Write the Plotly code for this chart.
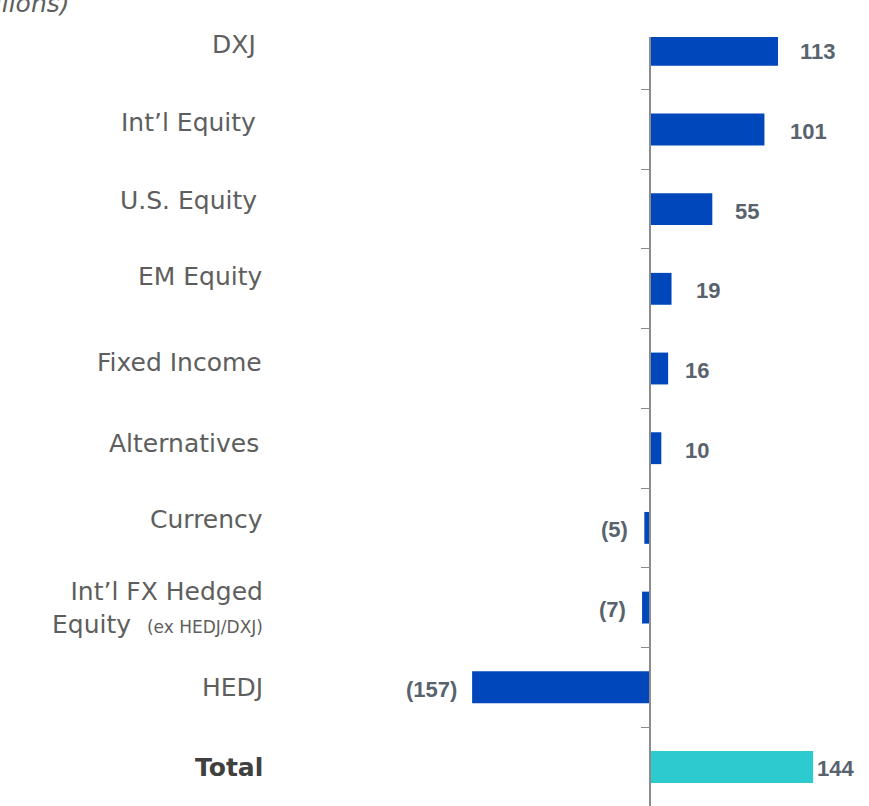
import plotly.graph_objects as go

categories = ["DXJ", "Int'l Equity", "U.S. Equity", "EM Equity", "Fixed Income",
              "Alternatives", "Currency", "Int'l FX Hedged Equity (ex HEDJ/DXJ)", "HEDJ", "Total"]
label_texts = ["DXJ", "Int\u2019l Equity", "U.S. Equity", "EM Equity", "Fixed Income",
               "Alternatives", "Currency",
               "Int\u2019l FX Hedged<br>Equity&nbsp;&nbsp;<span style='font-size:17px'>(ex&nbsp;HEDJ/DXJ)</span>",
               "HEDJ", "<b>Total</b>"]
values = [113, 101, 55, 19, 16, 10, -5, -7, -157, 144]
value_labels = ["113", "101", "55", "19", "16", "10", "(5)", "(7)", "(157)", "144"]

BLUE = "#0047BB"
CYAN = "#2DCBD0"
colors = [CYAN if c == "Total" else BLUE for c in categories]

W, H = 869, 806
L, R, T, B = 300, 0, 37, 0
plot_w = W - L - R
plot_h = H - T - B
zero_px = 650
px_per_unit = 1.133
x_min = -(zero_px - L) / px_per_unit
x_max = (W - R - zero_px) / px_per_unit

LABEL_FONT = "DejaVu Sans"

fig = go.Figure()
fig.add_trace(go.Bar(
    y=categories, x=values, orientation="h",
    marker=dict(color=colors, line=dict(width=0)),
    width=0.4, hoverinfo="skip", showlegend=False,
))

# value labels
val_shift = [20, 24, 21, 22, 15, 22, -14, -14, -13, 2]
for c, v, t, s in zip(categories, values, value_labels, val_shift):
    fig.add_annotation(
        x=v, y=c, xref="x", yref="y", text=t, showarrow=False,
        xanchor="left" if v >= 0 else "right", yanchor="middle",
        xshift=s, yshift=-2,
        font=dict(family="Liberation Sans", size=22, color="#59636E", weight="bold"),
    )

# category labels (left)
lab_x = (265 - L) / plot_w
lab_dx = [-7, -7, -6, 0, -1, -4, 0, 0, 0, 0]
lab_dy = [5, 7, 9, 12, 6, 5, 8, 0, 0, -1]
for c, t, dx, dy in zip(categories, label_texts, lab_dx, lab_dy):
    fig.add_annotation(
        x=lab_x, y=c, xref="paper", yref="y", text=t, showarrow=False,
        xanchor="right", yanchor="middle", align="right",
        xshift=dx, yshift=dy,
        font=dict(family=LABEL_FONT, size=25,
                  color="#404040" if c == "Total" else "#5E5E5E"),
    )

# cut-off unit label at top-left
fig.add_annotation(
    x=(72 - L) / plot_w, y=1 + (T - 20) / plot_h, xref="paper", yref="paper",
    text="<i>Net Flows ($ millions)</i>", showarrow=False,
    xanchor="right", yanchor="bottom",
    font=dict(family=LABEL_FONT, size=25, color="#5E5E5E"),
)

fig.update_layout(
    width=W, height=H,
    margin=dict(l=L, r=R, t=T, b=B, pad=0),
    paper_bgcolor="white", plot_bgcolor="white",
    xaxis=dict(range=[x_min, x_max], showgrid=False, zeroline=False,
               showticklabels=False, showline=False, ticks=""),
    yaxis=dict(type="category", categoryorder="array", categoryarray=categories,
               range=[9.49, -0.16], showgrid=False, zeroline=False,
               anchor="free", position=(zero_px - L) / plot_w,
               showline=True, linecolor="#8C8C8C", linewidth=1.5,
               ticks="outside", ticklen=8, tickwidth=1.2, tickcolor="#8C8C8C",
               tickson="boundaries", showticklabels=False),
)

fig.write_html("out.html", config={"displayModeBar": False},
               post_script="document.body.style.margin='0';")
